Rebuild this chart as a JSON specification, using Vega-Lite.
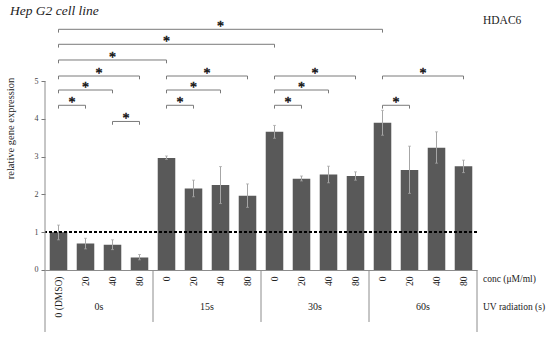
{
  "$schema": "https://vega.github.io/schema/vega-lite/v6.json",
  "width": 432,
  "height": 331,
  "autosize": {"type": "none"},
  "padding": {"left": 45, "top": 10, "right": 73, "bottom": 0},
  "background": "white",
  "config": {"view": {"stroke": null}, "font": "Liberation Serif"},
  "title": {"text": "Hep G2 cell line", "anchor": "start", "frame": "group", "dx": -35, "dy": 18, "offset": 0, "baseline": "alphabetic", "font": "Liberation Serif", "fontSize": 13.5, "fontStyle": "italic", "fontWeight": "normal", "color": "#222222"},
  "datasets": {
    "bars": [
      {"id": "0s|0 (DMSO)", "grp": "0s", "v": 1.0, "lo": 0.8, "hi": 1.19},
      {"id": "0s|20", "grp": "0s", "v": 0.7, "lo": 0.56, "hi": 0.84},
      {"id": "0s|40", "grp": "0s", "v": 0.67, "lo": 0.54, "hi": 0.8},
      {"id": "0s|80", "grp": "0s", "v": 0.33, "lo": 0.27, "hi": 0.41},
      {"id": "15s|0", "grp": "15s", "v": 2.97, "lo": 2.93, "hi": 3.02},
      {"id": "15s|20", "grp": "15s", "v": 2.16, "lo": 1.94, "hi": 2.38},
      {"id": "15s|40", "grp": "15s", "v": 2.25, "lo": 1.76, "hi": 2.74},
      {"id": "15s|80", "grp": "15s", "v": 1.97, "lo": 1.66, "hi": 2.28},
      {"id": "30s|0", "grp": "30s", "v": 3.66, "lo": 3.49, "hi": 3.83},
      {"id": "30s|20", "grp": "30s", "v": 2.42, "lo": 2.36, "hi": 2.49},
      {"id": "30s|40", "grp": "30s", "v": 2.53, "lo": 2.31, "hi": 2.75},
      {"id": "30s|80", "grp": "30s", "v": 2.49, "lo": 2.38, "hi": 2.6},
      {"id": "60s|0", "grp": "60s", "v": 3.9, "lo": 3.57, "hi": 4.23},
      {"id": "60s|20", "grp": "60s", "v": 2.65, "lo": 2.03, "hi": 3.28},
      {"id": "60s|40", "grp": "60s", "v": 3.24, "lo": 2.83, "hi": 3.66},
      {"id": "60s|80", "grp": "60s", "v": 2.75, "lo": 2.58, "hi": 2.91}
    ],
    "groups": [
      {"grp": "0s"}, {"grp": "15s"}, {"grp": "30s"}, {"grp": "60s"}
    ],
    "sidelabels": [
      {"grp": "60s", "lab": "conc (μM/ml)", "lv": -0.238, "size": 9.5},
      {"grp": "60s", "lab": "UV radiation (s)", "lv": -0.967, "size": 9.5},
      {"grp": "60s", "lab": "HDAC6", "lv": 6.583, "size": 11.5}
    ],
    "brackets": [
      {"a": 1, "b": 13, "lv": 6.376},
      {"a": 1, "b": 9, "lv": 5.979},
      {"a": 1, "b": 5, "lv": 5.563},
      {"a": 1, "b": 4, "lv": 5.139},
      {"a": 1, "b": 3, "lv": 4.768},
      {"a": 1, "b": 2, "lv": 4.363},
      {"a": 3, "b": 4, "lv": 3.935},
      {"a": 5, "b": 8, "lv": 5.139},
      {"a": 5, "b": 7, "lv": 4.768},
      {"a": 5, "b": 6, "lv": 4.363},
      {"a": 9, "b": 12, "lv": 5.139},
      {"a": 9, "b": 11, "lv": 4.768},
      {"a": 9, "b": 10, "lv": 4.363},
      {"a": 13, "b": 16, "lv": 5.139},
      {"a": 13, "b": 14, "lv": 4.363}
    ]
  },
  "resolve": {"scale": {"x": "independent"}},
  "layer": [
    {
      "data": {"name": "bars"},
      "layer": [
        {
          "mark": {"type": "bar", "color": "#595959"},
          "encoding": {
            "x": {"field": "id", "type": "nominal", "sort": null,
              "scale": {"paddingInner": 0.35, "paddingOuter": 0.175},
              "axis": {"title": null, "orient": "bottom", "offset": -71, "labelAngle": 270, "labelExpr": "split(datum.value, '|')[1]", "ticks": false, "domain": true, "domainColor": "#8c8c8c", "domainWidth": 1, "labelFont": "Liberation Serif", "labelFontSize": 9.5, "labelColor": "#222222", "labelPadding": 6}},
            "y": {"field": "v", "type": "quantitative",
              "scale": {"domain": [-1.8808, 6.8874], "nice": false, "zero": false},
              "axis": {"values": [0, 1, 2, 3, 4, 5], "domain": false, "tickSize": 4, "tickColor": "#777777", "grid": false, "labelFont": "Liberation Serif", "labelFontSize": 8, "labelColor": "#444444", "labelPadding": 3, "title": "relative gene expression", "titleFont": "Liberation Serif", "titleFontSize": 10.5, "titleFontWeight": "normal", "titleColor": "#222222", "titleX": -35, "titleY": 118, "titleAlign": "center", "titleBaseline": "middle", "titleAngle": 270}},
            "y2": {"datum": 0}
          }
        },
        {
          "mark": {"type": "rule", "color": "#a6a6a6", "strokeWidth": 1},
          "encoding": {
            "x": {"field": "id", "type": "nominal", "sort": null},
            "y": {"field": "lo", "type": "quantitative"},
            "y2": {"field": "hi"}
          }
        },
        {
          "mark": {"type": "tick", "color": "#a6a6a6", "size": 3, "thickness": 1, "orient": "horizontal"},
          "encoding": {
            "x": {"field": "id", "type": "nominal", "sort": null},
            "y": {"field": "hi", "type": "quantitative"}
          }
        },
        {
          "mark": {"type": "tick", "color": "#a6a6a6", "size": 3, "thickness": 1, "orient": "horizontal"},
          "encoding": {
            "x": {"field": "id", "type": "nominal", "sort": null},
            "y": {"field": "lo", "type": "quantitative"}
          }
        },
        {
          "mark": {"type": "rule", "color": "#000000", "strokeDash": [3, 2], "strokeWidth": 0.9},
          "encoding": {"y": {"datum": 1, "type": "quantitative"}}
        }
      ]
    },
    {
      "data": {"name": "groups"},
      "layer": [
        {
          "mark": {"type": "text", "font": "Liberation Serif", "fontSize": 10, "color": "#222222", "baseline": "middle", "align": "center"},
          "encoding": {
            "x": {"field": "grp", "type": "nominal", "sort": null, "scale": {"paddingInner": 0, "paddingOuter": 0}, "axis": null},
            "y": {"datum": -0.972, "type": "quantitative"},
            "text": {"field": "grp"}
          }
        },
        {
          "transform": [{"filter": "datum.grp != '0s'"}],
          "mark": {"type": "rule", "color": "#8c8c8c", "strokeWidth": 1},
          "encoding": {
            "x": {"field": "grp", "type": "nominal", "sort": null, "bandPosition": 0},
            "y": {"datum": 0, "type": "quantitative"},
            "y2": {"datum": -1.377}
          }
        },
        {
          "transform": [{"filter": "datum.grp == '0s'"}],
          "mark": {"type": "rule", "color": "#8c8c8c", "strokeWidth": 1},
          "encoding": {
            "x": {"field": "grp", "type": "nominal", "sort": null, "bandPosition": 0},
            "y": {"datum": 5, "type": "quantitative"},
            "y2": {"datum": -1.642}
          }
        },
        {
          "transform": [{"filter": "datum.grp == '60s'"}],
          "mark": {"type": "rule", "color": "#8c8c8c", "strokeWidth": 1},
          "encoding": {
            "x": {"field": "grp", "type": "nominal", "sort": null, "bandPosition": 1},
            "y": {"datum": 0, "type": "quantitative"},
            "y2": {"datum": -1.642}
          }
        },
        {
          "data": {"name": "sidelabels"},
          "mark": {"type": "text", "font": "Liberation Serif", "color": "#222222", "baseline": "middle", "align": "left", "dx": 6},
          "encoding": {
            "x": {"field": "grp", "type": "nominal", "sort": null, "bandPosition": 1},
            "y": {"field": "lv", "type": "quantitative"},
            "text": {"field": "lab"},
            "size": {"field": "size", "type": "quantitative", "scale": null, "legend": null}
          }
        }
      ]
    },
    {
      "data": {"name": "brackets"},
      "layer": [
        {
          "mark": {"type": "rule", "color": "#7a7a7a", "strokeWidth": 1},
          "encoding": {
            "x": {"field": "a", "type": "quantitative", "scale": {"domain": [0.5, 16.5], "nice": false, "zero": false}, "axis": null},
            "x2": {"field": "b"},
            "y": {"field": "lv", "type": "quantitative"}
          }
        },
        {
          "mark": {"type": "rule", "color": "#7a7a7a", "strokeWidth": 1, "y2Offset": 3.3},
          "encoding": {
            "x": {"field": "a", "type": "quantitative"},
            "y": {"field": "lv", "type": "quantitative"},
            "y2": {"field": "lv"}
          }
        },
        {
          "mark": {"type": "rule", "color": "#7a7a7a", "strokeWidth": 1, "y2Offset": 3.3},
          "encoding": {
            "x": {"field": "b", "type": "quantitative"},
            "y": {"field": "lv", "type": "quantitative"},
            "y2": {"field": "lv"}
          }
        },
        {
          "transform": [{"calculate": "(datum.a + datum.b) / 2", "as": "mid"}],
          "mark": {"type": "text", "text": "*", "font": "Liberation Serif", "fontSize": 14, "fontWeight": "normal", "fill": "#1a1a1a", "stroke": "#1a1a1a", "strokeWidth": 0.5, "baseline": "alphabetic", "align": "center", "dy": 2},
          "encoding": {
            "x": {"field": "mid", "type": "quantitative"},
            "y": {"field": "lv", "type": "quantitative"}
          }
        }
      ]
    }
  ]
}
